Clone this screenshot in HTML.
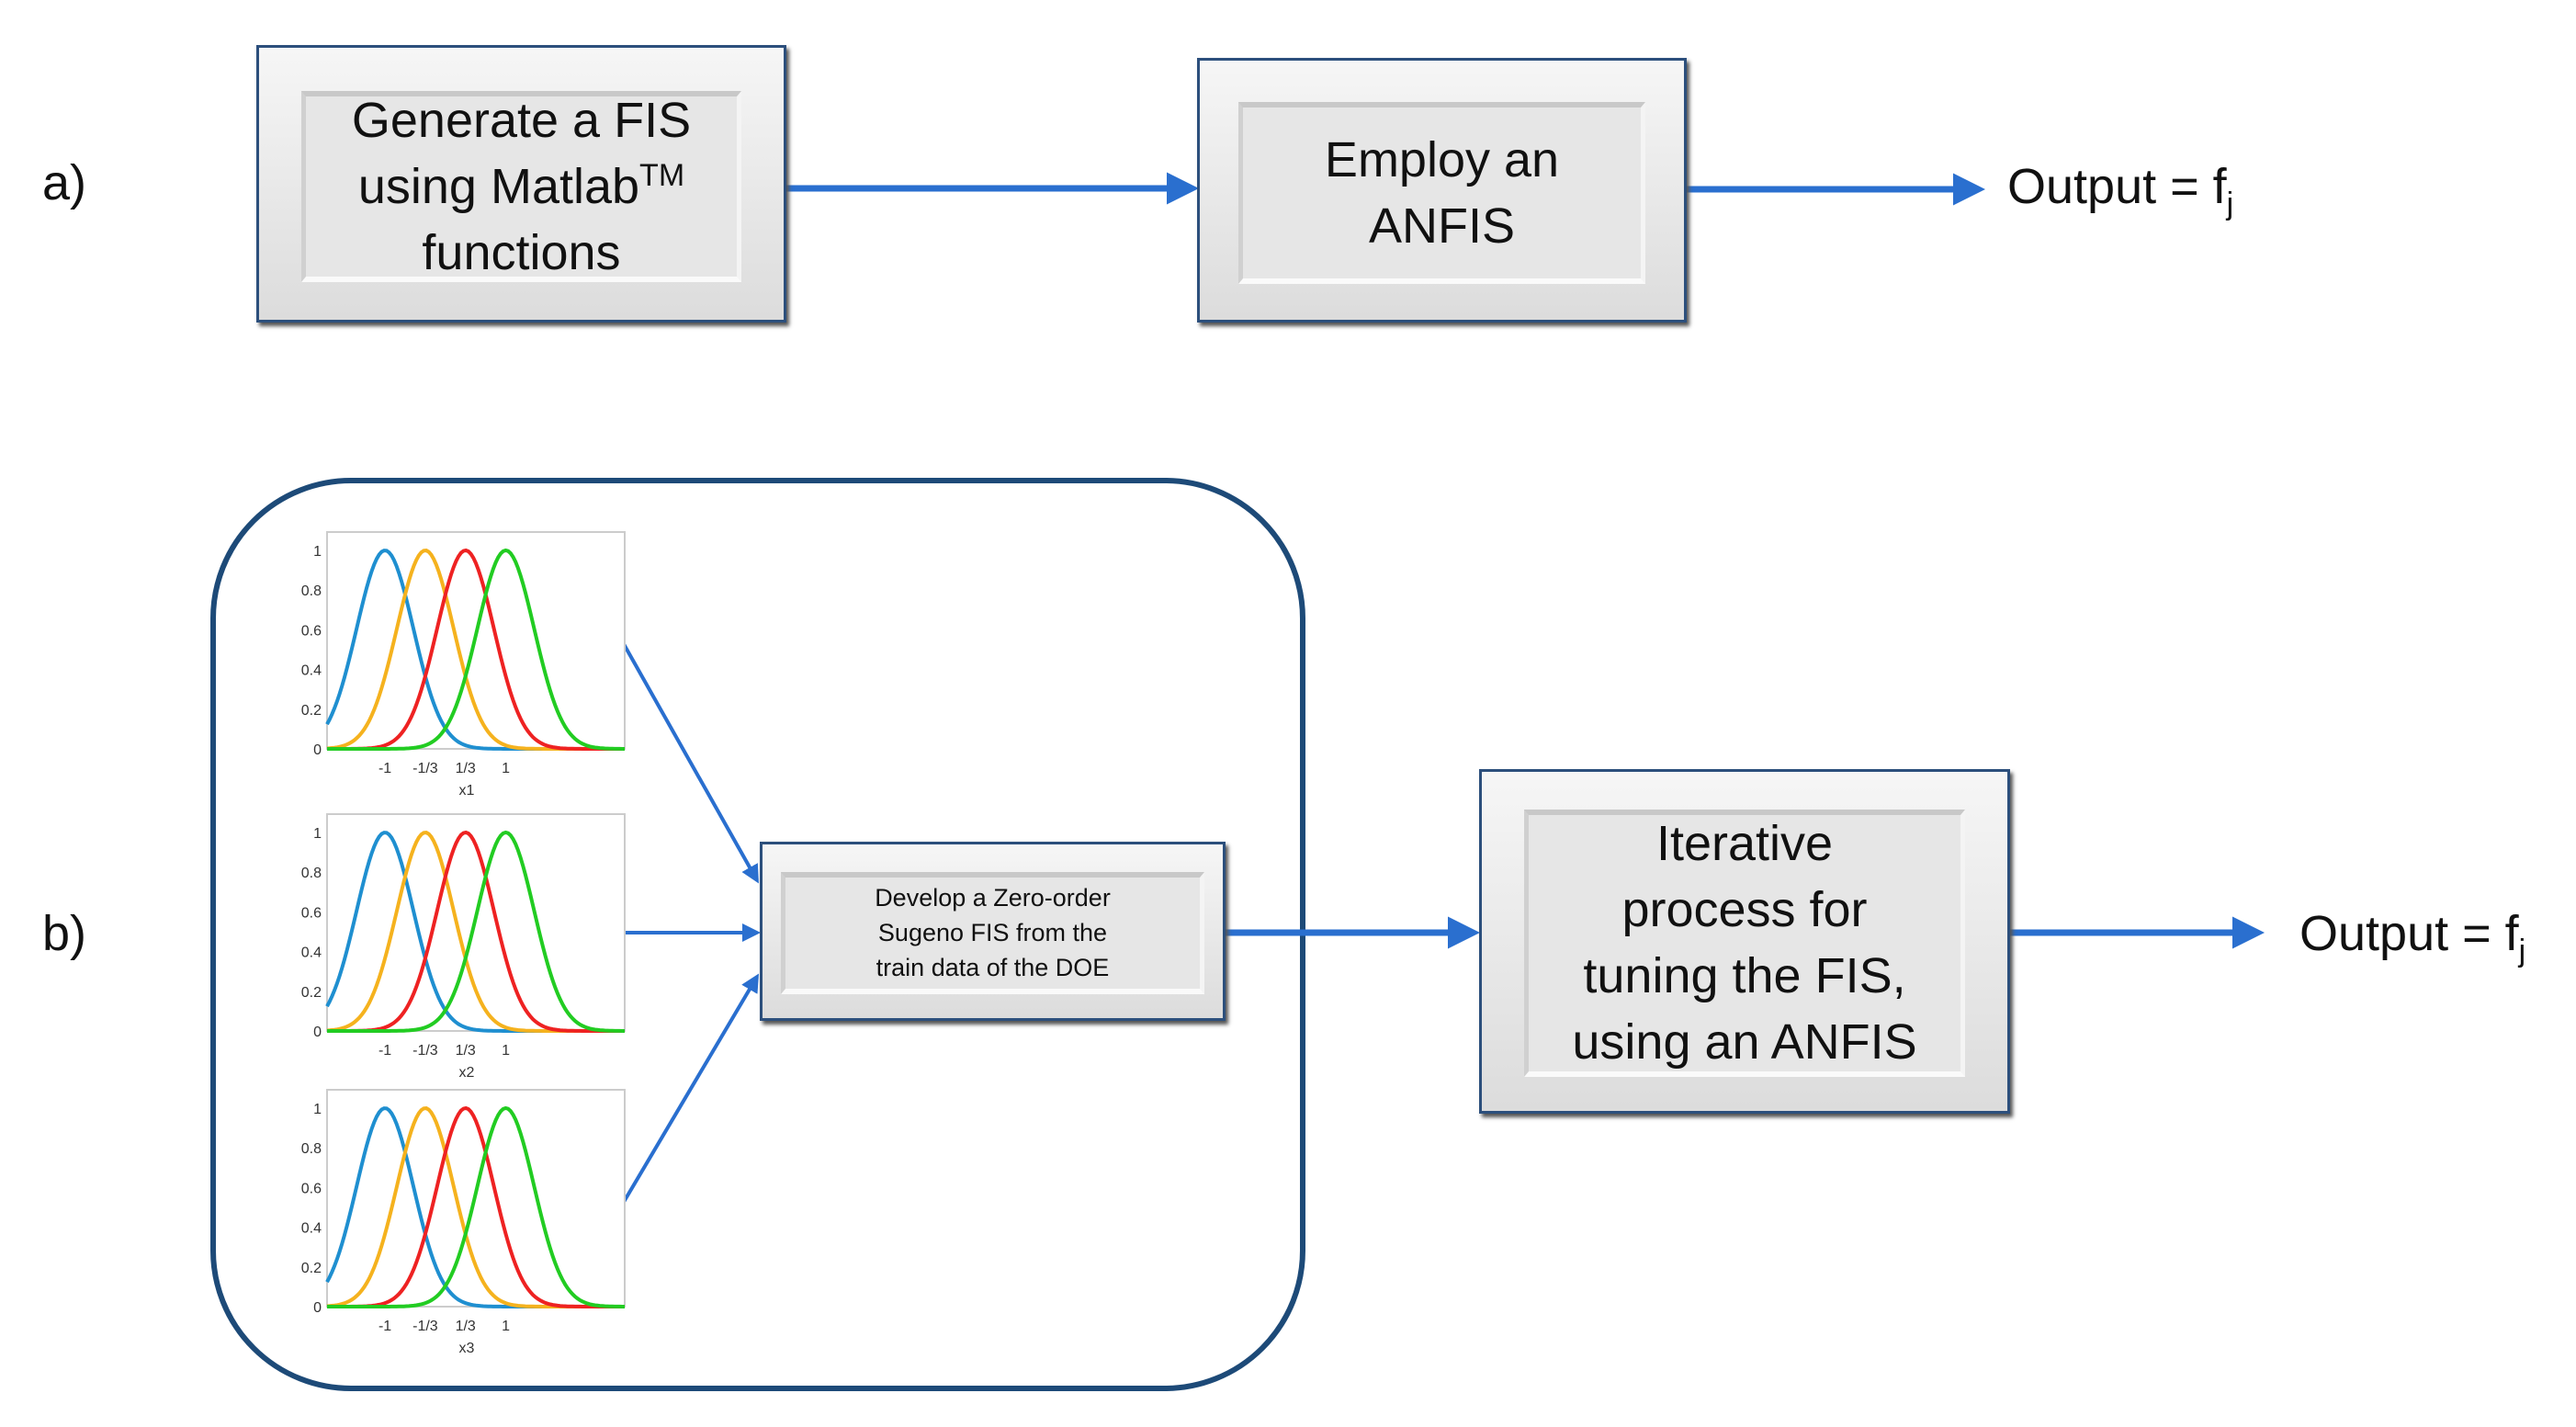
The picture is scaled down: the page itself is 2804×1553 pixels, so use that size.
<!DOCTYPE html>
<html><head><meta charset="utf-8"><style>
html,body{margin:0;padding:0;background:#fff;}
body{width:2804px;height:1553px;position:relative;overflow:hidden;font-family:"Liberation Sans",Arial,sans-serif;}
.box{position:absolute;box-sizing:border-box;border:3px solid #2c4f7c;background:linear-gradient(#f6f6f6,#dcdcdc);box-shadow:3px 4px 4px #555;}
.in{position:absolute;left:8%;right:8%;top:16%;bottom:14%;background:#e6e6e6;border-top:6px solid #c8c8c8;border-left:5px solid #d0d0d0;border-right:5px solid #f4f4f4;border-bottom:6px solid #fafafa;display:flex;align-items:center;justify-content:center;text-align:center;color:#111;}
.in>div{display:block;width:100%;}
.lbl{position:absolute;font-size:54px;color:#111;}
</style></head><body>
<svg id="s" width="2804" height="1553" style="position:absolute;left:0;top:0">
<defs><marker id="ah" markerWidth="5" markerHeight="5" refX="4" refY="2.5" orient="auto" markerUnits="strokeWidth"><path d="M0,0 L5,2.5 L0,5 Z" fill="#2a6fcf"/></marker>
<marker id="ah2" markerWidth="5" markerHeight="5" refX="4" refY="2.5" orient="auto" markerUnits="strokeWidth"><path d="M0,0 L5,2.5 L0,5 Z" fill="#2a6fcf"/></marker></defs>
<rect x="232" y="523" width="1186" height="988" rx="150" ry="150" fill="none" stroke="#1d4a78" stroke-width="6"/>
<g stroke="#2a6fcf" fill="none">
<line x1="855" y1="205" x2="1298" y2="205" stroke-width="7" marker-end="url(#ah)"/>
<line x1="1835" y1="206" x2="2154" y2="206" stroke-width="7" marker-end="url(#ah)"/>
<line x1="1333" y1="1015" x2="1604" y2="1015" stroke-width="7" marker-end="url(#ah)"/>
<line x1="2187" y1="1015" x2="2458" y2="1015" stroke-width="7" marker-end="url(#ah)"/>
<line x1="679" y1="701" x2="824" y2="958" stroke-width="4" marker-end="url(#ah2)"/>
<line x1="679" y1="1015" x2="824" y2="1015" stroke-width="4" marker-end="url(#ah2)"/>
<line x1="679" y1="1308" x2="824" y2="1063" stroke-width="4" marker-end="url(#ah2)"/>
</g>
<g id="plots"></g>
</svg>
<div class="lbl" style="left:46px;top:168px;">a)</div>
<div class="lbl" style="left:46px;top:985px;">b)</div>
<div class="lbl" style="left:2185px;top:172px;">Output = f<sub style="font-size:34px">j</sub></div>
<div class="lbl" style="left:2503px;top:985px;">Output = f<sub style="font-size:34px">j</sub></div>
<div class="box" style="left:279px;top:49px;width:577px;height:302px;"><div class="in" style="font-size:54px;line-height:72px;"><div>Generate a FIS<br>using Matlab<sup style="font-size:34px;line-height:0">TM</sup><br>functions</div></div></div>
<div class="box" style="left:1303px;top:63px;width:533px;height:288px;"><div class="in" style="font-size:54px;line-height:72px;"><div>Employ an<br>ANFIS</div></div></div>
<div class="box" style="left:827px;top:916px;width:507px;height:195px;"><div class="in" style="font-size:27px;line-height:38px;left:4%;right:4%;"><div>Develop a Zero-order<br>Sugeno FIS from the<br>train data of the DOE</div></div></div>
<div class="box" style="left:1610px;top:837px;width:578px;height:375px;"><div class="in" style="font-size:54px;line-height:72px;top:11%;bottom:10%;"><div>Iterative<br>process for<br>tuning the FIS,<br>using an ANFIS</div></div></div>
<script>
var g=document.getElementById('plots'),ns='http://www.w3.org/2000/svg';
function el(t,a,txt){var e=document.createElementNS(ns,t);for(var k in a)e.setAttribute(k,a[k]);if(txt)e.textContent=txt;g.appendChild(e);return e;}
var tops=[579,886,1186],names=['x1','x2','x3'];
tops.forEach(function(T,i){
 var L=356,R=680,B=T+236,Y1=T+20;
 el('rect',{x:L,y:T,width:R-L,height:B-T,fill:'#fff',stroke:'#ccc','stroke-width':2});
 var xmin=-1.96,xmax=2.97;
 function X(v){return L+(v-xmin)/(xmax-xmin)*(R-L);}
 function Y(v){return B-v*(B-Y1);}
 var cs=[[-1,'#1f8fd0'],[-1/3,'#f5b21e'],[1/3,'#ee2222'],[1,'#22cc22']];
 cs.forEach(function(c){var d='';for(var k=0;k<=120;k++){var v=xmin+(xmax-xmin)*k/120;var y=Math.exp(-Math.pow(v-c[0],2)/(2*0.47*0.47));d+=(k?'L':'M')+X(v).toFixed(1)+','+Y(y).toFixed(1);}
  el('path',{d:d,fill:'none',stroke:c[1],'stroke-width':4});});
 [0,0.2,0.4,0.6,0.8,1].forEach(function(v){el('text',{x:L-6,y:Y(v)+6,'font-size':16,'text-anchor':'end',fill:'#333','font-family':'Liberation Sans'},v+'');});
 [['-1',-1],['-1/3',-1/3],['1/3',1/3],['1',1]].forEach(function(t){el('text',{x:X(t[1]),y:B+26,'font-size':16,'text-anchor':'middle',fill:'#333','font-family':'Liberation Sans'},t[0]);});
 el('text',{x:(L+R)/2-10,y:B+50,'font-size':16,'text-anchor':'middle',fill:'#333','font-family':'Liberation Sans'},names[i]);
});
</script>
</body></html>
